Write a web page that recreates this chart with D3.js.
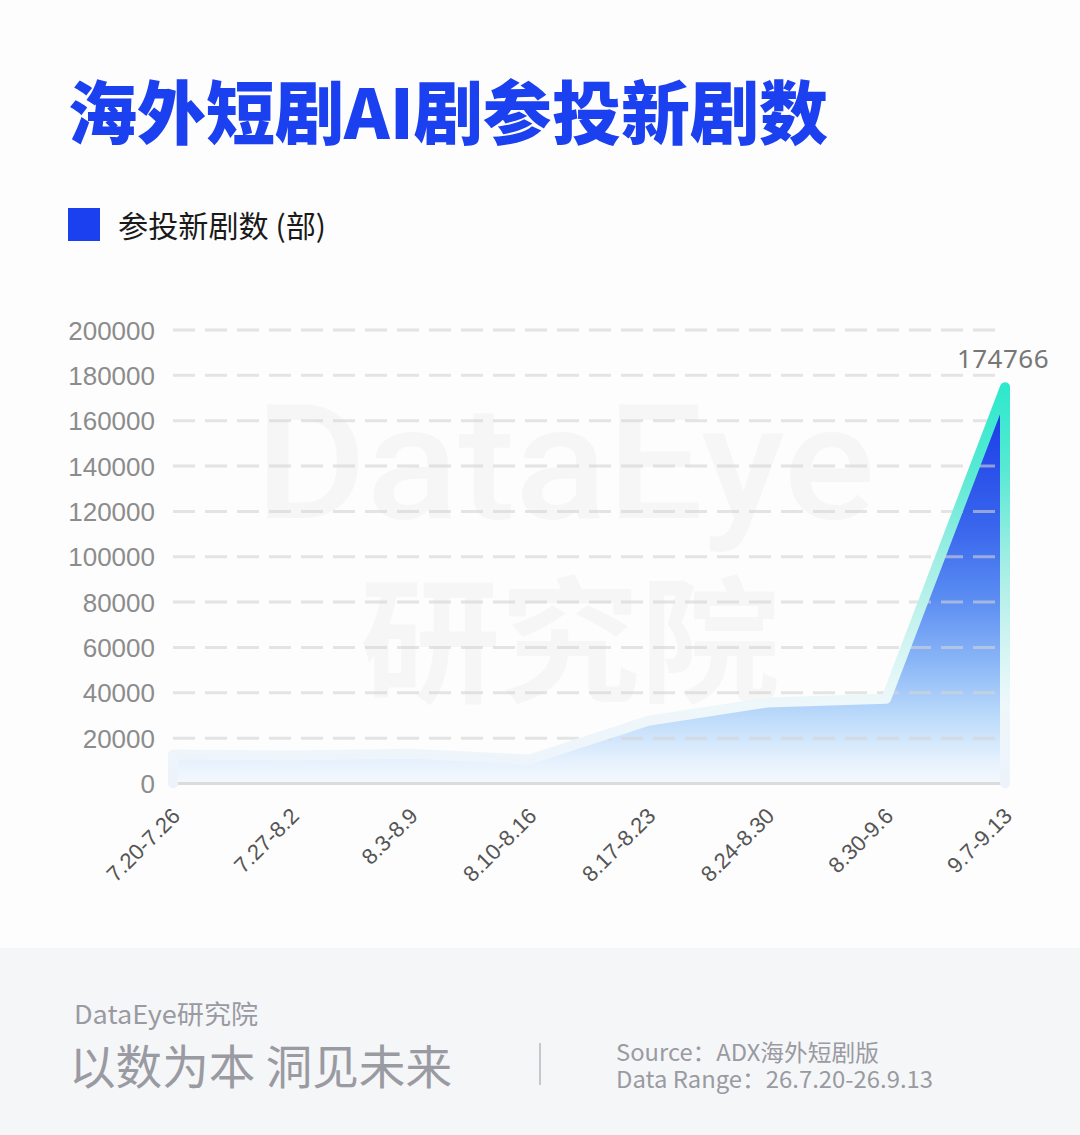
<!DOCTYPE html>
<html>
<head>
<meta charset="utf-8">
<script src="https://cdn.jsdelivr.net/npm/d3@7/dist/d3.min.js"></script>
<style>
  html, body { margin: 0; padding: 0; background: #fdfdfd; }
  svg { display: block; }
</style>
</head>
<body>
<svg id="chart" width="1080" height="1135"></svg>
<script>
const categories = ["7.20-7.26", "7.27-8.2", "8.3-8.9", "8.10-8.16", "8.17-8.23", "8.24-8.30", "8.30-9.6", "9.7-9.13"];
const values = [12800, 12300, 13100, 10600, 27700, 35700, 37400, 174766];
const yTicks = [0, 20000, 40000, 60000, 80000, 100000, 120000, 140000, 160000, 180000, 200000];
const titleText = "海外短剧AI剧参投新剧数";
const legendText = "参投新剧数 (部)";

const W = 1080, H = 1135;
const svg = d3.select("#chart");
const CJK = "'Noto Sans CJK SC', 'Noto Sans', sans-serif";
const LAT = "'Liberation Sans', Arial, sans-serif";

// backgrounds
svg.append("rect").attr("x", 0).attr("y", 0).attr("width", W).attr("height", 948).attr("fill", "#fdfdfd");
svg.append("rect").attr("x", 0).attr("y", 948).attr("width", W).attr("height", H - 948).attr("fill", "#f5f6f8");

// title
svg.append("text").attr("x", 68).attr("y", 139)
  .attr("font-family", CJK).attr("font-weight", 900).attr("font-size", 69)
  .attr("fill", "#1b40f0").attr("textLength", 760).attr("lengthAdjust", "spacingAndGlyphs")
  .text(titleText);

// legend
svg.append("rect").attr("x", 68).attr("y", 208).attr("width", 32).attr("height", 33).attr("fill", "#1b40f0");
svg.append("text").attr("x", 118).attr("y", 237)
  .attr("font-family", CJK).attr("font-size", 30).attr("fill", "#1a1a1a")
  .attr("textLength", 208).attr("lengthAdjust", "spacingAndGlyphs")
  .text(legendText);

// watermark
const wm = svg.append("g").attr("fill", "#f6f6f6");
wm.append("text").attr("x", 255).attr("y", 518)
  .attr("font-family", "Roboto, 'Noto Sans', sans-serif").attr("font-weight", 500).attr("font-size", 160)
  .attr("textLength", 620).attr("lengthAdjust", "spacingAndGlyphs")
  .text("DataEye");
wm.append("text").attr("x", 360).attr("y", 692)
  .attr("font-family", CJK).attr("font-weight", 700).attr("font-size", 136)
  .attr("textLength", 420).attr("lengthAdjust", "spacingAndGlyphs")
  .text("研究院");

// scales
const x = d3.scalePoint().domain(categories).range([173, 1005]);
const y = d3.scaleLinear().domain([0, 200000]).range([783.5, 330]);

const defs = svg.append("defs");
const fillGrad = defs.append("linearGradient").attr("id", "fillGrad")
  .attr("gradientUnits", "userSpaceOnUse")
  .attr("x1", 0).attr("x2", 0).attr("y1", y(d3.max(values))).attr("y2", y(0));
[[0, "#1433e6"], [0.36, "#3a67ed"], [0.53, "#5a8cf2"], [0.70, "#8cb8f7"], [0.82, "#b8d8fa"], [0.95, "#e8f2fd"], [1, "#f4f8fe"]]
  .forEach(([o, c]) => fillGrad.append("stop").attr("offset", o).attr("stop-color", c));
const lineGrad = defs.append("linearGradient").attr("id", "lineGrad")
  .attr("gradientUnits", "userSpaceOnUse")
  .attr("x1", 0).attr("x2", 0).attr("y1", y(d3.max(values))).attr("y2", y(0));
[[0, "#2ee9cc"], [0.2, "#55e9d3"], [0.44, "#a2eee4"], [0.61, "#c9f3ef"], [0.74, "#e4f7f7"], [0.8, "#eef7fa"], [1, "#eef3fb"]]
  .forEach(([o, c]) => lineGrad.append("stop").attr("offset", o).attr("stop-color", c));

const pts = categories.map((c, i) => ({ c, v: values[i] }));

// area fill
const area = d3.area().x(d => x(d.c)).y0(y(0)).y1(d => y(d.v));
svg.append("path").datum(pts).attr("d", area).attr("fill", "url(#fillGrad)");

// gridlines
const grid = svg.append("g");
yTicks.filter(t => t > 0).forEach(t => {
  grid.append("line").attr("x1", 173).attr("x2", 1005).attr("y1", y(t)).attr("y2", y(t))
    .attr("stroke", "rgba(212,212,212,0.6)").attr("stroke-width", 3).attr("stroke-dasharray", "22 10");
});

// axis line
svg.append("line").attr("x1", 173).attr("x2", 1005).attr("y1", y(0)).attr("y2", y(0))
  .attr("stroke", "#dcdcdc").attr("stroke-width", 3);

// outline stroke (left edge, data line, right edge)
const outline = [{ c: categories[0], v: 0 }, ...pts, { c: categories[categories.length - 1], v: 0 }];
const line = d3.line().x(d => x(d.c)).y(d => y(d.v));
svg.append("path").datum(outline).attr("d", line)
  .attr("fill", "none").attr("stroke", "url(#lineGrad)").attr("stroke-width", 10)
  .attr("stroke-linejoin", "round").attr("stroke-linecap", "round");

// y axis labels
const yAxis = d3.axisLeft(y).tickValues(yTicks).tickSize(0).tickPadding(0).tickFormat(d3.format("d"));
const yg = svg.append("g").attr("transform", "translate(155,0)").call(yAxis);
yg.select(".domain").remove();
yg.selectAll("text").attr("font-family", LAT).attr("font-size", 26).attr("fill", "#8c8c8c").attr("dy", "0.35em");

// x axis labels
const xAxis = d3.axisBottom(x).tickSize(0).tickPadding(0);
const xg = svg.append("g").call(xAxis);
xg.select(".domain").remove();
xg.selectAll(".tick").attr("transform", d => `translate(${x(d) + 3},812)`);
xg.selectAll("text")
  .attr("font-family", LAT).attr("font-size", 22).attr("fill", "#555555")
  .attr("text-anchor", "end").attr("y", 0).attr("dy", "0.35em")
  .attr("transform", "rotate(-45)");

// peak value label
const last = pts[pts.length - 1];
svg.append("text").attr("x", x(last.c) - 2).attr("y", y(last.v) - 19)
  .attr("text-anchor", "middle").attr("font-family", "'Noto Sans', 'Open Sans', sans-serif")
  .attr("font-size", 26).attr("fill", "#777777").attr("letter-spacing", 0.5)
  .text(String(last.v));

// footer
svg.append("text").attr("x", 74).attr("y", 1024)
  .attr("font-family", CJK).attr("font-size", 26).attr("fill", "#9a9aa2")
  .attr("textLength", 184).attr("lengthAdjust", "spacingAndGlyphs")
  .text("DataEye研究院");
svg.append("text").attr("x", 69).attr("y", 1084)
  .attr("font-family", CJK).attr("font-size", 47).attr("fill", "#9a9aa2")
  .attr("textLength", 383).attr("lengthAdjust", "spacingAndGlyphs")
  .text("以数为本 洞见未来");
svg.append("line").attr("x1", 540).attr("x2", 540).attr("y1", 1043).attr("y2", 1085)
  .attr("stroke", "#c8c8cc").attr("stroke-width", 2);
svg.append("text").attr("x", 616).attr("y", 1061)
  .attr("font-family", CJK).attr("font-size", 23).attr("fill", "#9a9aa2")
  .attr("textLength", 263).attr("lengthAdjust", "spacingAndGlyphs")
  .text("Source：ADX海外短剧版");
svg.append("text").attr("x", 616).attr("y", 1088)
  .attr("font-family", CJK).attr("font-size", 23).attr("fill", "#9a9aa2")
  .attr("textLength", 317).attr("lengthAdjust", "spacingAndGlyphs")
  .text("Data Range：26.7.20-26.9.13");
</script>
</body>
</html>
